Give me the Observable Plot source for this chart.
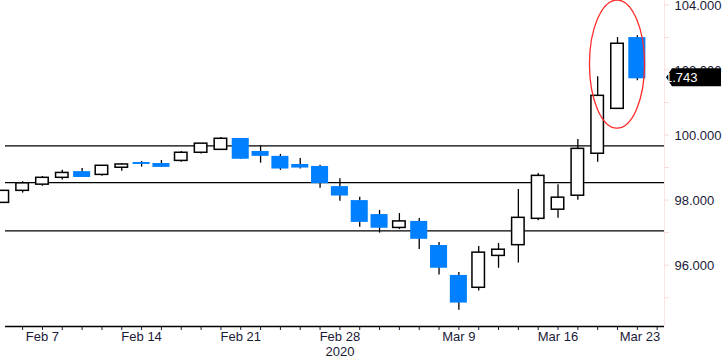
<!DOCTYPE html>
<html><head><meta charset="utf-8">
<script src="https://cdn.jsdelivr.net/npm/d3@7"></script>
<script src="https://cdn.jsdelivr.net/npm/@observablehq/plot@0.6"></script>
<style>body{margin:0;background:#fff;} svg{display:block}</style>
</head><body><div id="chart"></div>
<script>
const dates = ["Feb 5","Feb 6","Feb 7","Feb 10","Feb 11","Feb 12","Feb 13","Feb 14","Feb 17","Feb 18","Feb 19","Feb 20","Feb 21","Feb 24","Feb 25","Feb 26","Feb 27","Feb 28","Mar 2","Mar 3","Mar 4","Mar 5","Mar 6","Mar 9","Mar 10","Mar 11","Mar 12","Mar 13","Mar 16","Mar 17","Mar 18","Mar 19","Mar 20"];
const open  = [97.93, 98.30, 98.49, 98.70, 98.89, 98.79, 99.01, 99.17, 99.14, 99.22, 99.47, 99.56, 99.91, 99.51, 99.36, 99.11, 99.05, 98.43, 98.00, 97.57, 97.16, 97.36, 96.62, 95.70, 95.32, 96.30, 96.63, 97.44, 97.72, 98.15, 99.44, 100.82, 103.01];
const high  = [98.30, 98.58, 98.74, 98.93, 98.99, 99.07, 99.14, 99.20, 99.23, 99.51, 99.75, 99.94, 99.91, 99.68, 99.42, 99.29, 99.09, 98.67, 98.10, 97.70, 97.60, 97.45, 96.71, 95.79, 96.59, 96.68, 98.34, 98.83, 98.49, 99.88, 101.81, 103.01, 103.07];
const low   = [97.93, 98.23, 98.44, 98.63, 98.71, 98.75, 98.90, 99.03, 99.02, 99.18, 99.43, 99.56, 99.27, 99.15, 98.93, 98.97, 98.38, 97.98, 97.18, 97.00, 97.11, 96.50, 95.71, 94.63, 95.22, 95.92, 96.08, 97.38, 97.46, 98.01, 99.18, 100.82, 101.68];
const close = [98.30, 98.53, 98.70, 98.85, 98.71, 99.07, 99.11, 99.11, 99.02, 99.47, 99.75, 99.90, 99.27, 99.36, 98.97, 99.00, 98.52, 98.14, 97.33, 97.15, 97.36, 96.81, 95.92, 94.85, 96.40, 96.49, 97.47, 98.76, 98.09, 99.59, 101.22, 102.82, 101.743];

const levels = [99.68, 98.55, 97.07];
const yTicks = [96, 98, 100, 102, 104];
const yMinorTicks = [95, 96, 97, 98, 99, 100, 101, 102, 103, 104];
const xLabels = ["Feb 7", "Feb 14", "Feb 21", "Feb 28", "Mar 9", "Mar 16"];
const nextDayLabel = "Mar 23";
const yearLabel = "2020";
const yearUnder = "Feb 28";
const circledDay = "Mar 19";
const circleCenter = 102.18, circleHalfDays = 1.39, circleHalfValue = 1.97;

const BLUE = "#0080ff";
const TEXT = "#1a1a38";

const candles = dates.map((d, i) => ({i, date: d, open: open[i], high: high[i], low: low[i], close: close[i]}));
const up = candles.filter(d => d.close >= d.open);
const down = candles.filter(d => d.close < d.open);

const xDomain = [0.136, 33.37];
const yDomain = [94.13, 104.15];

function frameDecor(index, scales, values, dims) {
  const {y} = scales;
  const g = d3.create("svg:g");
  const xr = dims.width - dims.marginRight;
  g.append("line").attr("x1", xr + 0.5).attr("x2", xr + 0.5)
    .attr("y1", dims.marginTop).attr("y2", dims.height - dims.marginBottom)
    .attr("stroke", "#fbe4e4");
  for (const v of yMinorTicks) {
    g.append("line").attr("x1", xr).attr("x2", xr + 5)
      .attr("y1", y(v)).attr("y2", y(v)).attr("stroke", "#f8dada");
  }
  return g.node();
}

function annotations(index, scales, values, dims) {
  const {x, y} = scales;
  const g = d3.create("svg:g");
  const xr = dims.width - dims.marginRight;
  const ci = dates.indexOf(circledDay);
  g.append("ellipse")
    .attr("cx", x(ci)).attr("cy", y(circleCenter))
    .attr("rx", x(ci + circleHalfDays) - x(ci))
    .attr("ry", y(circleCenter - circleHalfValue) - y(circleCenter))
    .attr("fill", "none").attr("stroke", "#ff2b2b").attr("stroke-width", 1.3);
  const last = close[close.length - 1];
  const yv = y(last) - 1;
  g.append("polygon")
    .attr("points", [[xr + 2, yv], [xr + 8, yv - 9], [xr + 57, yv - 9], [xr + 57, yv + 9], [xr + 8, yv + 9]].map(p => p.join(",")).join(" "))
    .attr("fill", "black");
  g.append("text").attr("x", xr + 10).attr("y", yv).attr("dy", "0.36em")
    .attr("fill", "white").attr("font-size", 13).text(last.toFixed(3));
  return g.node();
}

const plot = Plot.plot({
  width: 728, height: 358,
  marginTop: 0, marginBottom: 32, marginLeft: 5, marginRight: 64,
  style: {fontFamily: "'Liberation Sans', Arial, sans-serif", fontSize: "13px", color: TEXT, background: "white"},
  x: {type: "linear", domain: xDomain, ticks: d3.range(1, dates.length + 1), tickSize: 4, tickFormat: () => "", label: null},
  y: {domain: yDomain, axis: null},
  marks: [
    frameDecor,
    Plot.ruleY(levels, {stroke: "black", strokeWidth: 1.3}),
    Plot.ruleY([yDomain[0]], {stroke: "black", strokeWidth: 1.3}),
    Plot.ruleX(candles, {x: "i", y1: "low", y2: "high", stroke: "black", strokeWidth: 1.3}),
    Plot.rect(down, {x1: d => d.i - 0.43, x2: d => d.i + 0.43, y1: "open", y2: "close", fill: BLUE}),
    Plot.rect(up, {x1: d => d.i - 0.315, x2: d => d.i + 0.315, y1: "open", y2: "close", fill: "white", stroke: "black", strokeWidth: 1.5}),
    Plot.text(yTicks, {y: d => d, text: d => d.toFixed(3), frameAnchor: "right", textAnchor: "start", dx: 10, fill: TEXT}),
    Plot.text(xLabels, {x: d => dates.indexOf(d), text: d => d, frameAnchor: "bottom", lineAnchor: "top", dy: 5, fill: TEXT}),
    Plot.text([nextDayLabel], {x: () => dates.length, text: d => d, frameAnchor: "bottom", lineAnchor: "top", dy: 5, dx: 3, textAnchor: "end", fill: TEXT}),
    Plot.text([yearLabel], {x: () => dates.indexOf(yearUnder), text: d => d, frameAnchor: "bottom", lineAnchor: "top", dy: 20, fill: TEXT}),
    annotations
  ]
});
document.getElementById("chart").appendChild(plot);
</script>
</body></html>
